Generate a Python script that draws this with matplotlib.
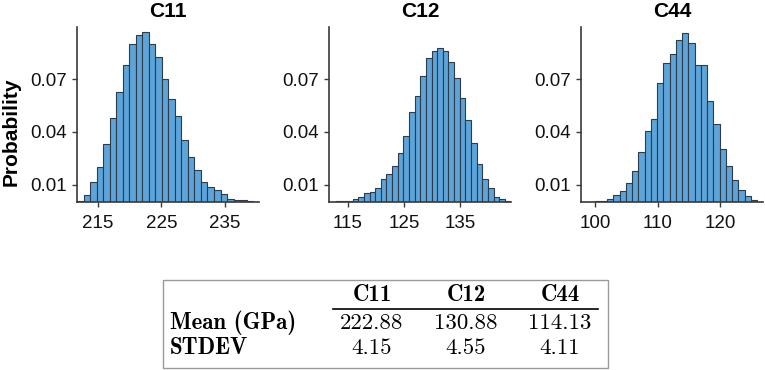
import numpy as np
import matplotlib
matplotlib.use("Agg")
import matplotlib.pyplot as plt
from matplotlib.patches import Rectangle
from matplotlib.lines import Line2D

plt.rcParams.update({
    "font.family": "sans-serif",
    "font.sans-serif": ["Liberation Sans", "DejaVu Sans"],
})

# histogram data (probability per bin)
c11_start, c11_width = 211.67, 1.03
c11_prob = [0.0007, 0.0039, 0.0115, 0.0201, 0.0334, 0.0480, 0.0628, 0.0782, 0.0902,
            0.0957, 0.0969, 0.0902, 0.0830, 0.0700, 0.0588, 0.0492, 0.0353, 0.0258,
            0.0182, 0.0115, 0.0083, 0.0068, 0.0045, 0.0016, 0.0014, 0.0009, 0.0005]

c12_start, c12_width = 112.9, 1.0
c12_prob = [0.0004, 0.0004, 0.0008, 0.0015, 0.0029, 0.0053, 0.0057, 0.0080, 0.0131,
            0.0160, 0.0208, 0.0280, 0.0380, 0.0514, 0.0604, 0.0718, 0.0825, 0.0861,
            0.0880, 0.0865, 0.0798, 0.0709, 0.0594, 0.0470, 0.0339, 0.0215, 0.0133,
            0.0082, 0.0029, 0.0015, 0.0004]

c44_start, c44_width = 97.87, 1.0
c44_prob = [0.0002, 0.0002, 0.0004, 0.0006, 0.0017, 0.0038, 0.0063, 0.0107, 0.0177,
            0.0286, 0.0404, 0.0472, 0.0682, 0.0796, 0.0844, 0.0924, 0.0968, 0.0909,
            0.0785, 0.0781, 0.0575, 0.0448, 0.0301, 0.0206, 0.0124, 0.0070, 0.0034,
            0.0013]

names = ["C11", "C12", "C44"]
xticks = [[215, 225, 235], [115, 125, 135], [100, 110, 120]]
xlims = [(211.67, 240.4), (111.7, 144.0), (97.7, 126.8)]
yticks = [0.01, 0.04, 0.07]

row_labels = ["Mean (GPa)", "STDEV"]
means = ["222.88", "130.88", "114.13"]
stdevs = ["4.15", "4.55", "4.11"]

W, H = 765, 370
fig = plt.figure(figsize=(W / 100, H / 100), dpi=100)


def fx(x):
    return x / W


def fy(y):
    return 1 - y / H


lefts = [77, 329, 581]
series = [(c11_start, c11_width, c11_prob),
          (c12_start, c12_width, c12_prob),
          (c44_start, c44_width, c44_prob)]

spine_c = "#3a3a3a"
for i, (x0, (start, width, prob)) in enumerate(zip(lefts, series)):
    ax = fig.add_axes([fx(x0), fy(202), 182 / W, 175 / H])
    edges = start + width * np.arange(len(prob))
    ax.bar(edges, prob, width=width, align="edge", color="#5ca4da",
           edgecolor="#2e3b48", linewidth=0.8)
    ax.set_xlim(*xlims[i])
    ax.set_ylim(0, 0.1)
    ax.set_xticks(xticks[i])
    ax.set_yticks(yticks)
    ax.set_yticklabels([f"{v:.2f}" for v in yticks])
    for s in ("top", "right"):
        ax.spines[s].set_visible(False)
    for s in ("left", "bottom"):
        ax.spines[s].set_color(spine_c)
        ax.spines[s].set_linewidth(1.2)
    ax.tick_params(colors=spine_c, labelcolor="#111111", labelsize=13.5,
                   length=3.5, width=1.0)
    ax.tick_params(axis="x", pad=6)
    ax.set_title(names[i], fontsize=15, fontweight="bold", pad=7)
    if i == 0:
        ax.set_ylabel("Probability", fontsize=15, fontweight="bold")
        ax.yaxis.set_label_coords(-0.31, 0.40)

# summary table
fig.patches.append(Rectangle((fx(163), fy(368)), (608 - 163) / W, (368 - 280) / H,
                             transform=fig.transFigure, fill=False,
                             edgecolor="#9a9a9a", linewidth=1.0))
fig.lines.append(Line2D([fx(333), fx(598)], [fy(309), fy(309)],
                        transform=fig.transFigure, color="black", linewidth=1.2))
col_x = [372, 466, 560]
tsize = 16.5
for cx, name in zip(col_x, names):
    fig.text(fx(cx), fy(295), name, family="cmb10", fontsize=tsize,
             ha="center", va="center")
fig.text(fx(170), fy(323), row_labels[0], family="cmb10", fontsize=tsize,
         ha="left", va="center")
fig.text(fx(170), fy(348), row_labels[1], family="cmb10", fontsize=tsize,
         ha="left", va="center")
for cx, m, s in zip(col_x, means, stdevs):
    fig.text(fx(cx), fy(323), m, family="cmr10", fontsize=tsize, ha="center", va="center")
    fig.text(fx(cx), fy(348), s, family="cmr10", fontsize=tsize, ha="center", va="center")

fig.savefig("out.png", dpi=100)
